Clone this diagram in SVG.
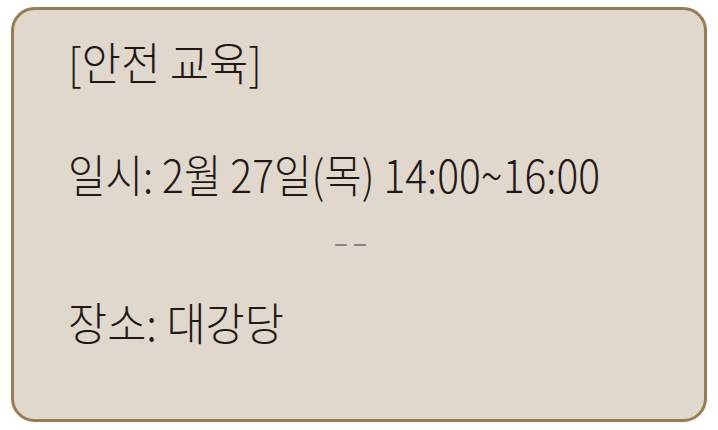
<svg xmlns="http://www.w3.org/2000/svg" width="718" height="430" viewBox="0 0 718 430">
<style>
.t{font-family:"Noto Sans CJK KR","Noto Sans",sans-serif;font-size:45px;font-weight:300;fill:#231815;}
.d{stroke:#8a8680;stroke-width:2;stroke-linecap:round;}
</style>
<rect x="0" y="0" width="718" height="430" fill="#ffffff"/>
<g id="card">
<rect x="12.5" y="8.5" width="693" height="412" rx="22" ry="22" fill="#e0d8cd" stroke="#987d53" stroke-width="3"/>
</g>
<g id="title"><text class="t" x="68" y="81" textLength="194" lengthAdjust="spacingAndGlyphs">[안전 교육]</text></g>
<g id="date"><text class="t" x="68" y="193" textLength="532" lengthAdjust="spacingAndGlyphs">일시: 2월 27일(목) 14:00~16:00</text></g>
<g id="marks">
<line class="d" x1="336" y1="245" x2="346" y2="245"/>
<line class="d" x1="355" y1="245" x2="365" y2="245"/>
</g>
<g id="place"><text class="t" x="68" y="341" textLength="216" lengthAdjust="spacingAndGlyphs">장소: 대강당</text></g>
</svg>
